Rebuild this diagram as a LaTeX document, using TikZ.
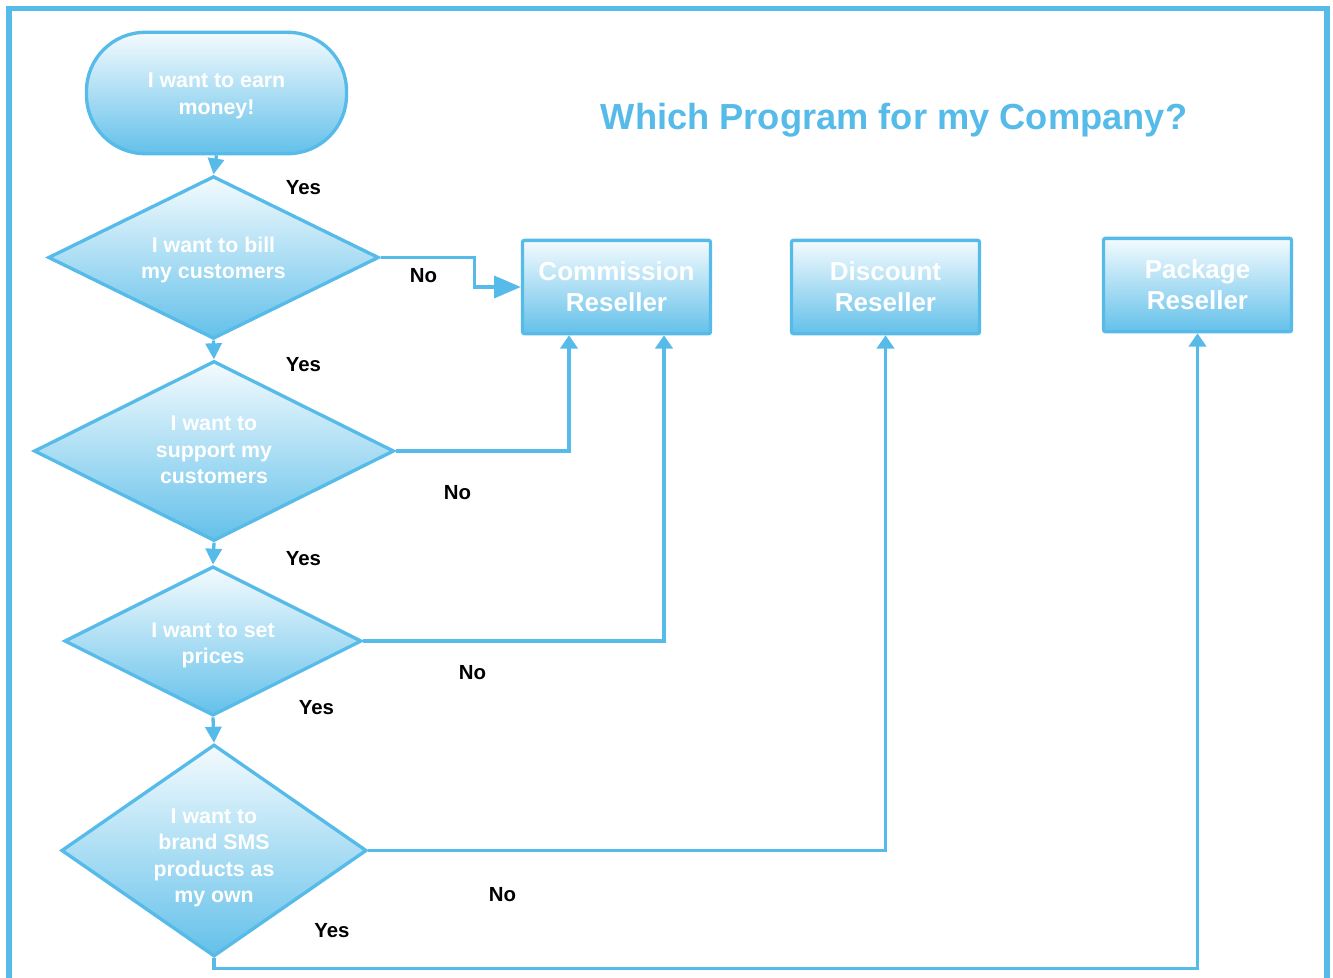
\documentclass[tikz,border=0pt]{standalone}
\usepackage{fontspec}
\setmainfont{Liberation Sans}
\usetikzlibrary{shapes.geometric,arrows.meta,calc}
\definecolor{lb}{RGB}{86,187,232}
\definecolor{lt}{RGB}{244,251,254}
\newcommand{\tx}[2]{\raisebox{-#1}[\height][\depth]{\begin{tabular}{@{}c@{}}#2\end{tabular}}}
\begin{document}
\begin{tikzpicture}[x=0.75pt,y=-0.75pt,
  shadedfill/.style={top color=lt, bottom color=lb!92, draw=lb, line width=2.5pt},
  startbox/.style={shadedfill, rectangle, rounded corners=44pt, minimum width=195pt, minimum height=91pt,
    text=white, font=\bfseries\fontsize{16}{20}\selectfont},
  question/.style={shadedfill, diamond, inner sep=0pt, text=white,
    font=\bfseries\fontsize{16}{19.8}\selectfont},
  result/.style={shadedfill, rectangle, rounded corners=1.5pt, minimum width=141pt, minimum height=70pt,
    align=center, text=white, font=\bfseries\fontsize{19.5}{23.5}\selectfont},
  conn/.style={draw=lb, line width=2.5pt, -{Triangle[length=12pt,width=12pt]}},
  upconn/.style={draw=lb, line width=2.5pt, -{Triangle[length=10pt,width=13pt]}},
  bigconn/.style={draw=lb, line width=2.5pt, -{Triangle[length=20pt,width=16.5pt]}},
  lbl/.style={font=\bfseries\fontsize{15.3}{18}\selectfont, text=black, inner sep=0pt},
  titlestyle/.style={font=\bfseries\fontsize{27.2}{32}\selectfont, text=lb, inner sep=0pt}]
\useasboundingbox (0,0) rectangle (1333,977);
\begin{scope}
  \clip (0,0) rectangle (1333,977);
  \draw[lb, line width=3.8pt] (9,8.5) rectangle (1327,1005);
\end{scope}

\node[titlestyle] (title) at (894,120) {Which Program for my Company?};

\node[startbox] (s) at (216.5,93) {\tx{2.25pt}{I want to earn\\money!}};
\node[question, minimum width=248pt, minimum height=122pt, shape aspect=2.03] (d1) at (213.5,257.5) {\tx{2.25pt}{I want to bill\\my customers}};
\node[question, minimum width=270pt, minimum height=135pt, shape aspect=2] (d2) at (214,451) {\tx{0.75pt}{I want to\\support my\\customers}};
\node[question, minimum width=223pt, minimum height=112pt, shape aspect=2] (d3) at (213,641) {\tx{3pt}{I want to set\\prices}};
\node[question, minimum width=229pt, minimum height=159pt, shape aspect=1.44] (d4) at (214,850.5) {\tx{5.5pt}{I want to\\brand SMS\\products as\\my own}};

\node[result] (b1) at (616.5,287) {Commission\\Reseller};
\node[result] (b2) at (885.5,287) {Discount\\Reseller};
\node[result] (b3) at (1197.5,285) {Package\\Reseller};

\draw[conn] (s.south) -- (d1.north);
\draw[conn] (d1.south) -- (d2.north);
\draw[conn] (d2.south) -- (d3.north);
\draw[conn] (d3.south) -- (d4.north);

\draw[bigconn] (d1.east) -- ++(94,0) |- (b1.west);
\draw[upconn] (d2.east) -| ($(b1.south)+(-47.5,0)$);
\draw[upconn] (d3.east) -| ($(b1.south)+(47.5,0)$);
\draw[upconn] (d4.east) -| (b2.south);
\draw[upconn] (d4.south) -- ++(0,10) -| (b3.south);

\node[lbl] (y1) at (303.5,188) {Yes};
\node[lbl] (y2) at (303.5,365) {Yes};
\node[lbl] (y3) at (303.5,559) {Yes};
\node[lbl] (y4) at (316.5,708) {Yes};
\node[lbl] (y5) at (332,931) {Yes};
\node[lbl] (n1) at (423.5,276) {No};
\node[lbl] (n2) at (457.5,493) {No};
\node[lbl] (n3) at (472.5,673) {No};
\node[lbl] (n4) at (502.5,895) {No};
\end{tikzpicture}
\end{document}
